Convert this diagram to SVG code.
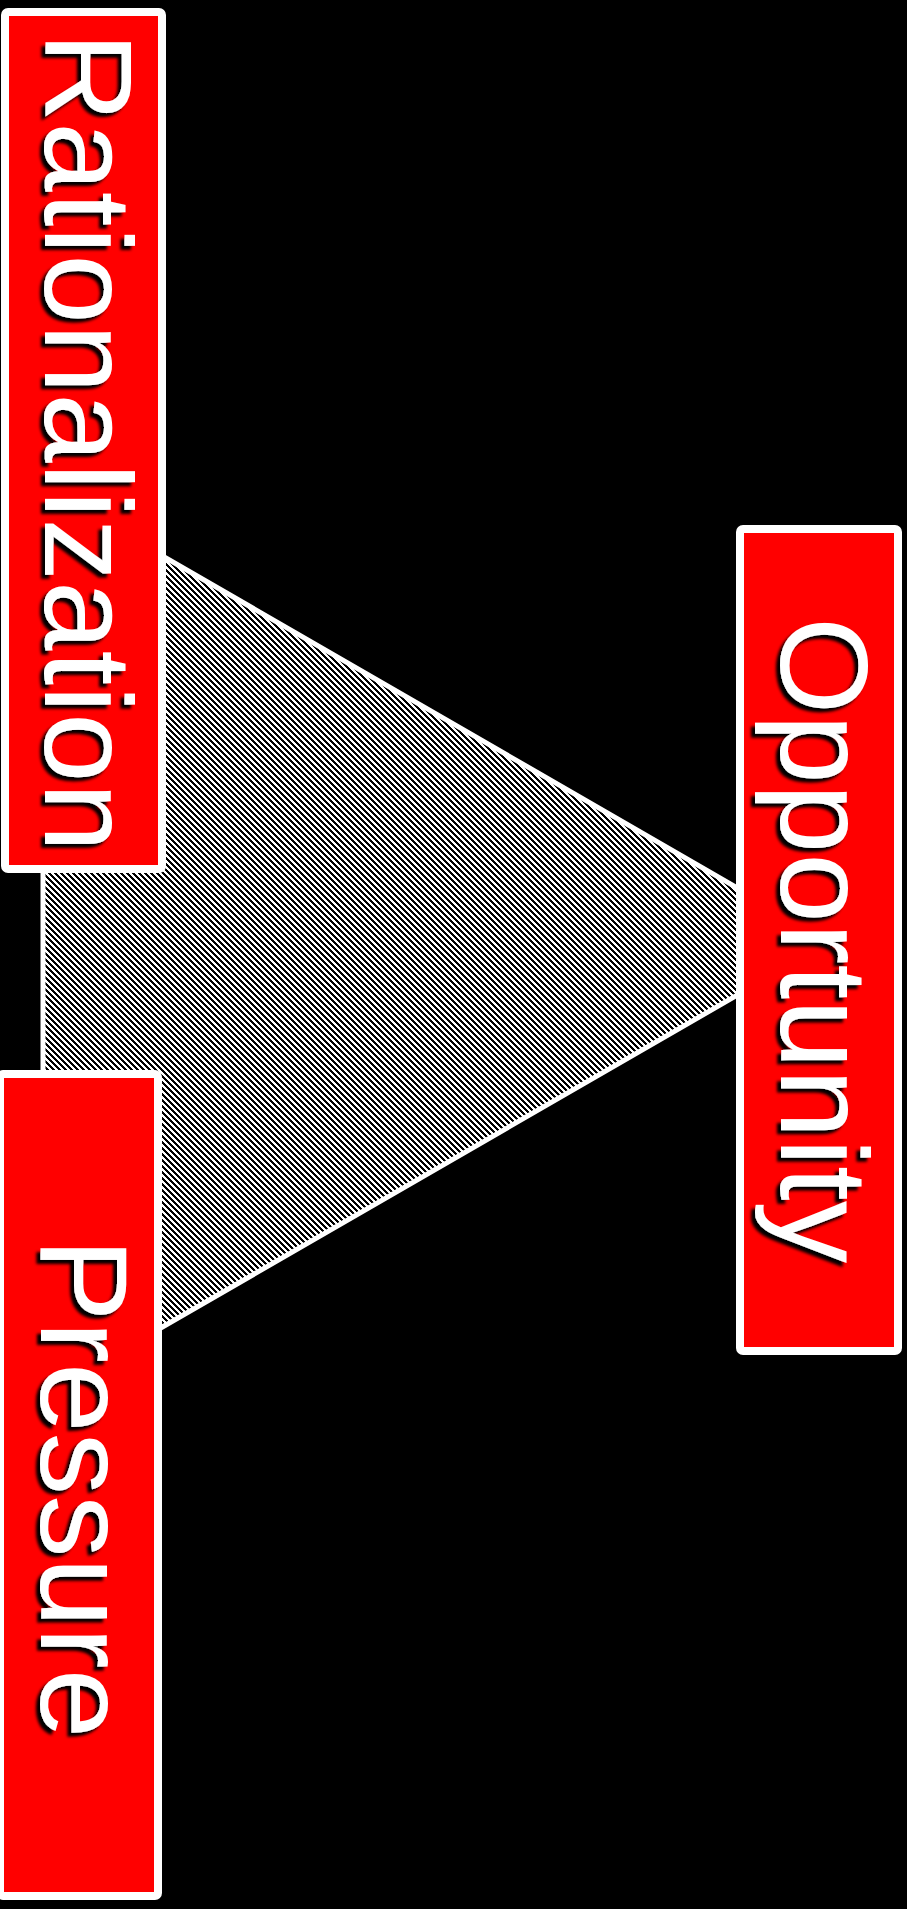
<svg xmlns="http://www.w3.org/2000/svg" width="907" height="1909" viewBox="0 0 907 1909">
<defs>
<pattern id="hatch" width="6" height="6" patternUnits="userSpaceOnUse">
<rect width="6" height="6" fill="#000"/>
<path fill="#fff" shape-rendering="crispEdges" d="M0 0h3v1h-3z M1 1h3v1h-3z M2 2h3v1h-3z M3 3h3v1h-3z M4 4h2v1h-2z M0 4h1v1h-1z M5 5h1v1h-1z M0 5h2v1h-2z"/>
</pattern>
<filter id="sh" x="-10%" y="-20%" width="130%" height="150%">
<feDropShadow dx="4" dy="4" stdDeviation="1.5" flood-color="#000" flood-opacity="1"/>
</filter>
</defs>
<style>
.box{fill:#ff0000;stroke:#fff;stroke-width:8}
.lbl{font-family:"Liberation Sans",Arial,sans-serif;font-size:125px;fill:#fff}
</style>
<rect width="907" height="1909" fill="#000"/>
<g id="connectors">
<polygon points="43,487 830,941.5 43,1396" fill="url(#hatch)" stroke="#fff" stroke-width="5" stroke-linejoin="miter"/>
</g>
<g id="rationalization">
<rect class="box" x="5" y="12" width="157" height="857" rx="3"/>
<g transform="translate(45,32) rotate(90)"><text class="lbl" x="0" y="0" filter="url(#sh)">Rationalization</text></g>
</g>
<g id="opportunity">
<rect class="box" x="740" y="529" width="158" height="822" rx="3"/>
<g transform="translate(781,617) rotate(90)"><text class="lbl" x="0" y="0" filter="url(#sh)">Opportunity</text></g>
</g>
<g id="pressure">
<rect class="box" x="0" y="1074" width="158" height="822" rx="3"/>
<g transform="translate(41,1238) rotate(90)"><text class="lbl" x="0" y="0" filter="url(#sh)">Pressure</text></g>
</g>
</svg>
